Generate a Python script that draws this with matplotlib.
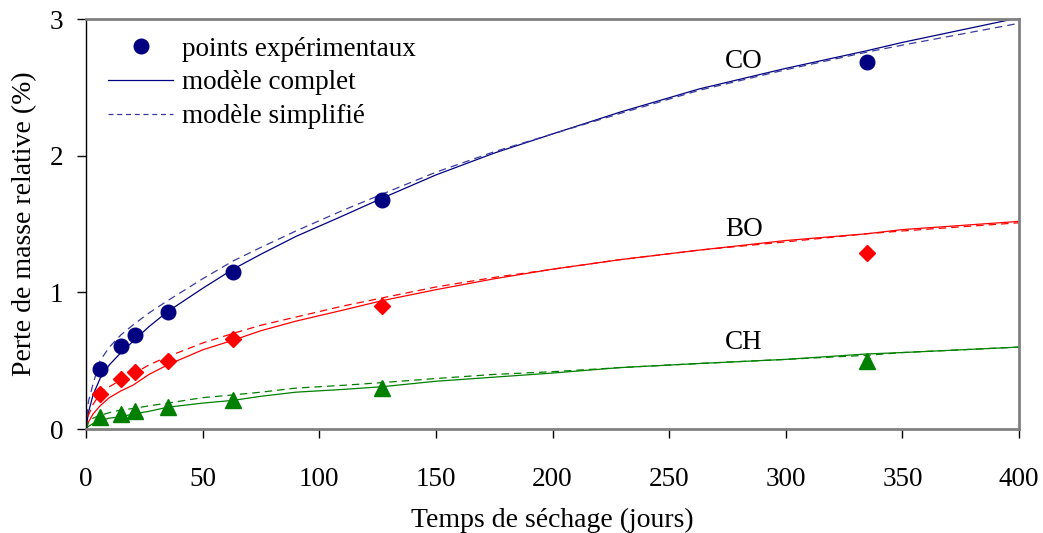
import matplotlib
matplotlib.use('Agg')
import matplotlib.pyplot as plt
from matplotlib.lines import Line2D

plt.rcParams['font.family'] = ['Liberation Serif', 'DejaVu Serif']

# experimental points (days, %)
t_exp = [6, 15, 21, 35, 63, 127, 335]
co_exp = [0.44, 0.61, 0.69, 0.86, 1.15, 1.68, 2.69]
bo_exp = [0.26, 0.37, 0.42, 0.50, 0.66, 0.90, 1.29]
ch_exp = [0.09, 0.11, 0.13, 0.16, 0.21, 0.30, 0.50]

# model curves
t_mod = [0, 1, 3, 6, 10, 15, 20, 27, 35, 50, 63, 75, 90, 110, 127, 150, 175, 200,
         229, 263, 300, 335, 350, 375, 400]
co_full = [0, 0.12, 0.25, 0.37, 0.47, 0.56, 0.64, 0.75, 0.86, 1.03, 1.17, 1.28, 1.41,
           1.56, 1.69, 1.86, 2.02, 2.16, 2.32, 2.49, 2.64, 2.77, 2.83, 2.92, 3.01]
co_simp = [0, 0.20, 0.33, 0.50, 0.60, 0.69, 0.76, 0.85, 0.94, 1.10, 1.23, 1.33, 1.45,
           1.60, 1.72, 1.88, 2.03, 2.16, 2.31, 2.48, 2.63, 2.76, 2.81, 2.89, 2.97]
bo_full = [0, 0.05, 0.11, 0.17, 0.23, 0.28, 0.32, 0.40, 0.47, 0.58, 0.65, 0.72, 0.79,
           0.87, 0.94, 1.02, 1.10, 1.17, 1.24, 1.31, 1.38, 1.43, 1.46, 1.49, 1.52]
bo_simp = [0, 0.10, 0.18, 0.26, 0.31, 0.36, 0.40, 0.47, 0.53, 0.63, 0.70, 0.76, 0.82,
           0.90, 0.96, 1.04, 1.11, 1.17, 1.24, 1.31, 1.37, 1.43, 1.45, 1.48, 1.51]
ch_full = [0, 0.02, 0.04, 0.06, 0.08, 0.09, 0.11, 0.13, 0.16, 0.19, 0.21, 0.24, 0.27,
           0.29, 0.31, 0.35, 0.38, 0.41, 0.45, 0.48, 0.51, 0.55, 0.56, 0.58, 0.60]
ch_simp = [0, 0.05, 0.08, 0.10, 0.12, 0.14, 0.15, 0.17, 0.19, 0.23, 0.25, 0.27, 0.30,
           0.32, 0.34, 0.37, 0.40, 0.42, 0.45, 0.48, 0.51, 0.54, 0.56, 0.58, 0.60]

navy = '#000080'
navy_dash = '#3a3aa0'
red = '#FF0000'
green = '#008000'
fs = 19.5

fig = plt.figure(figsize=(10.43, 5.33), dpi=100)
ax = fig.add_axes([0.0825, 0.195, 0.8945, 0.769])

ax.plot(t_mod, co_full, color=navy, lw=0.9)
ax.plot(t_mod, co_simp, color=navy_dash, lw=0.9, ls=(0, (6, 4)))
ax.plot(t_mod, bo_full, color=red, lw=0.9)
ax.plot(t_mod, bo_simp, color=red, lw=0.9, ls=(0, (6, 4)))
ax.plot(t_mod, ch_full, color=green, lw=0.9)
ax.plot(t_mod, ch_simp, color=green, lw=0.9, ls=(0, (6, 4)))

ax.plot(t_exp, co_exp, 'o', color=navy, ms=10.5, ls='none')
ax.plot(t_exp, bo_exp, 'D', color=red, ms=8.5, ls='none')
ax.plot(t_exp, ch_exp, '^', color=green, ms=11, ls='none')

ax.text(282, 2.69, 'CO', fontsize=fs, ha='center', va='center')
ax.text(282, 1.46, 'BO', fontsize=fs, ha='center', va='center')
ax.text(282, 0.63, 'CH', fontsize=fs, ha='center', va='center')

ax.set_xlim(0, 400)
ax.set_ylim(0, 3)
ax.set_xticks(range(0, 401, 50))
ax.set_yticks([0, 1, 2, 3])
ax.tick_params(direction='out', length=6.5, width=1, labelsize=fs)
ax.tick_params(axis='y', pad=10)
ax.tick_params(axis='x', pad=21)
ax.set_xlabel('Temps de séchage (jours)', fontsize=20, labelpad=11)
ax.set_ylabel('Perte de masse relative (%)', fontsize=20, labelpad=9)

ax.spines['left'].set_color('black')
ax.spines['left'].set_linewidth(1)
for s in ['top', 'right', 'bottom']:
    ax.spines[s].set_color('#808080')
    ax.spines[s].set_linewidth(2)

handles = [
    Line2D([], [], marker='o', color=navy, ls='none', ms=10.5),
    Line2D([], [], color=navy, lw=0.9),
    Line2D([], [], color=navy_dash, lw=0.9, ls=(0, (4, 3))),
]
labels = ['points expérimentaux', 'modèle complet', 'modèle simplifié']
ax.legend(handles, labels, loc='upper left', bbox_to_anchor=(0.024, 0.957),
          frameon=False, fontsize=fs, borderpad=0, handlelength=2.4,
          handletextpad=0.3, labelspacing=0.32, borderaxespad=0)

fig.savefig('out.png', dpi=100)
